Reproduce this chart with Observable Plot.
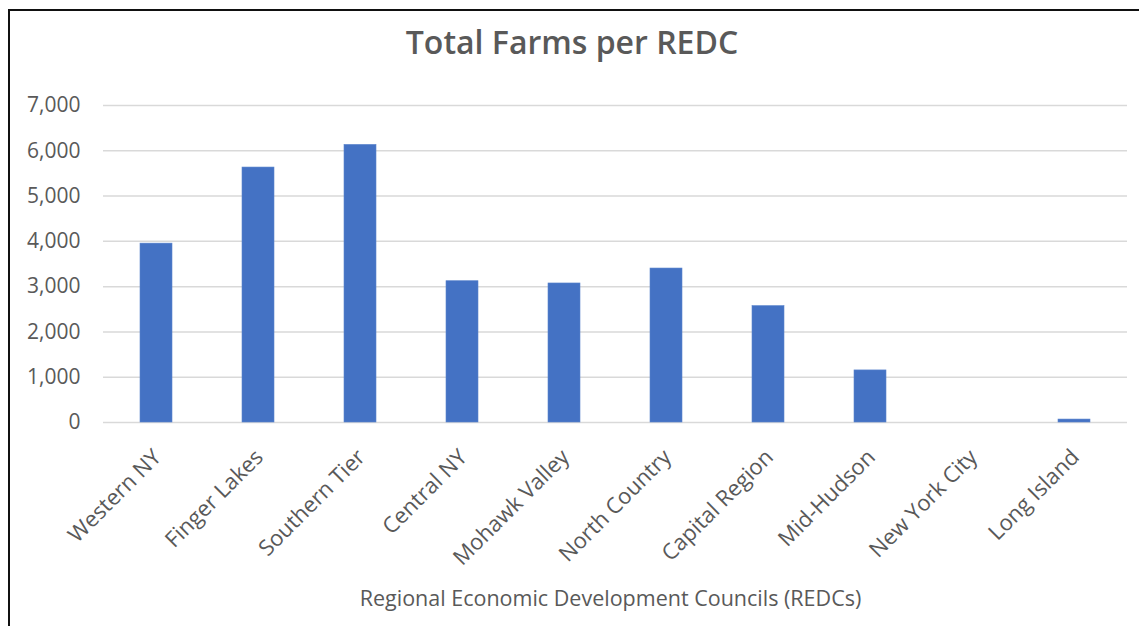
<!DOCTYPE html>
<html>
<head>
<meta charset="utf-8">
<script src="https://cdn.jsdelivr.net/npm/d3@7"></script>
<script src="https://cdn.jsdelivr.net/npm/@observablehq/plot@0.6"></script>
<style>
  html, body { margin: 0; padding: 0; background: #fff; }
  #wrap { position: relative; width: 1139px; height: 626px; overflow: hidden; background: #fff; font-family: "Open Sans", sans-serif; }
  #frame { position: absolute; left: 8px; top: 9px; width: 1200px; height: 700px; border-top: 2.5px solid #111; border-left: 2.5px solid #111; box-sizing: border-box; }
  #title { position: absolute; left: 0; width: 1144px; top: 20px; text-align: center; font-size: 32px; font-weight: 600; color: #595959; line-height: normal; white-space: nowrap; }
  #chart { position: absolute; left: 0; top: 80px; }
</style>
</head>
<body>
<div id="wrap">
  <div id="frame"></div>
  <div id="title">Total Farms per REDC</div>
  <div id="chart"></div>
</div>
<script>
const regions = ["Western NY", "Finger Lakes", "Southern Tier", "Central NY", "Mohawk Valley", "North Country", "Capital Region", "Mid-Hudson", "New York City", "Long Island"];
const farms = [3950, 5630, 6130, 3120, 3070, 3400, 2570, 1150, 0, 65];
const yTicks = [0, 1000, 2000, 3000, 4000, 5000, 6000, 7000];
const xAxisLabel = "Regional Economic Development Councils (REDCs)";

const data = regions.map((r, i) => ({region: r, farms: farms[i]}));

const plot = Plot.plot({
  width: 1139,
  height: 546,
  marginTop: 25,
  marginBottom: 204,
  marginLeft: 103,
  marginRight: 12,
  style: {fontFamily: "'Open Sans', sans-serif", color: "#595959", background: "transparent"},
  x: {domain: regions, paddingInner: 0.6875, paddingOuter: 0.34375, label: null},
  y: {domain: [0, 7000], label: null},
  marks: [
    Plot.gridY(yTicks, {stroke: "#d9d9d9", strokeOpacity: 1, strokeWidth: 1.5}),
    Plot.barY(data, {x: "region", y: "farms", fill: "#4472C4", stroke: "#5a84cc", strokeWidth: 0.6}),
    Plot.axisY(yTicks, {tickSize: 0, tickPadding: 23, tickFormat: d3.format(","), fontSize: 21, fill: "#595959", label: null}),
    Plot.axisX({tickSize: 0, tickRotate: -45, tickPadding: 31, fontSize: 22, fill: "#595959", label: null, dx: 1}),
    Plot.text([xAxisLabel], {frameAnchor: "bottom", dy: 183, fontSize: 21.5, fill: "#595959", dx: -5})
  ]
});
document.getElementById("chart").appendChild(plot);
</script>
</body>
</html>
